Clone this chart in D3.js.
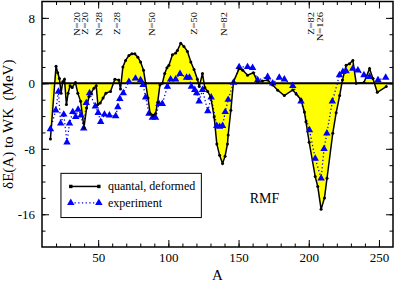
<!DOCTYPE html>
<html><head><meta charset="utf-8">
<script src="https://cdn.jsdelivr.net/npm/d3@7"></script>
<style>body{margin:0;background:#fff}svg{display:block}text{font-family:"Liberation Serif","Times New Roman",serif}</style>
</head><body><div id="chart"></div>
<script>
// quantal, deformed (A, dE)
const quantalA = [16,20,21.2,22.4,23.6,24.8,26,27.4,28.6,30,31.5,33.8,35.5,37.5,39.9,41.8,43.5,45,47,48.6,49.8,51.5,53.5,55.5,58.8,61.9,64.7,65.9,67.6,69.5,71.9,74,76.1,78.3,80.2,82.3,83.8,85.5,87,89.2,90.9,92.4,94,95.7,97.4,99,100.4,102.9,105.2,106.4,108.8,111.1,113.6,116,118.3,120.7,122,124.3,125.9,128,130.2,132.6,134.5,136.5,138.6,140.4,142.1,142.6,144.5,146.4,150.4,153,156.4,160.5,163.6,167,170.7,174.3,177.9,182.6,188.6,191,194.5,196.9,198,200.3,204.6,206.4,208.8,211.2,213,217.1,219.5,222,224,226.6,229,231.4,233.8,239.3,243.3,245.7,248.8,255.2];
const quantalE = [-6.8,2.1,1.3,0.6,-1.2,0.2,0.5,-2.6,-1.2,-0.3,-0.5,0.1,-1.2,-2.2,-5.4,-3.0,-1.6,-1.2,-0.6,-0.3,-2.6,-2.4,-1.8,-1.2,-1.0,0.5,0.4,-0.7,2.0,2.8,3.4,3.6,3.6,3.2,2.6,1.6,0.0,-1.8,-3.7,-3.9,-3.7,-2.3,-0.2,0.0,1.2,1.9,2.2,3.5,3.7,4.0,4.9,4.5,3.9,2.6,1.7,0.5,-0.4,1.2,-0.5,-1.0,-1.7,-4.1,-7.4,-8.8,-9.8,-8.9,-7.4,-6.3,-3.3,0.2,1.8,1.6,1.0,1.3,0.2,0.3,0.4,-0.2,-0.85,-1.5,-0.8,-1.3,-2.0,-3.5,-4.7,-7.2,-11.4,-12.6,-15.4,-14.0,-11.6,-6.1,-3.6,-1.5,0.4,2.2,2.4,2.8,0.0,0.1,1.8,0.6,-1.1,-0.4];
// experiment (A, dE)
const exptA = [16,19.8,21.7,23.3,25.5,27.8,29.6,31.9,34,35.7,37.8,39.7,41.5,43.9,48,50,51.8,54.5,58,62.5,64,65.4,67.9,71.9,76.6,80.2,82,83.8,86.2,88.6,90.9,93.3,95.7,99.3,101.6,105.2,108.3,113,115,116.4,118.8,120.2,121.9,124.3,128.1,130.5,134.5,136.5,138.6,140.5,142.6,146.4,150.4,156.4,160,163.6,170.7,174.3,179,182.6,188.6,194.5,200.5,204.6,208.8,210.9,212.9,216.8,221.9,224.3,226.6,231.4,235,239.3,243.3,249.3,254.8];
const exptE = [-5.6,-3.3,-1.0,-4.9,-3.8,-7.2,-4.9,-3.5,-4.1,-3.2,-3.9,-5.5,-2.4,-1.2,-2.8,-3.6,-4.7,-3.8,-3.9,-4.0,-2.9,-1.9,-1.2,0.2,0.6,0.4,-0.2,-1.7,-3.7,-4.2,-4.2,-2.5,-2.5,-0.4,0.5,0.5,1.15,0.7,0.7,-0.4,-0.8,-1.2,-2.2,-0.8,-3.4,-1.7,-5.2,-5.3,-5.2,-3.5,-2.0,0.1,2.0,2.0,1.9,0.4,0.8,0.0,0.7,0.5,-0.3,-2.2,-5.7,-9.2,-11.6,-8.0,-6.1,-2.2,1.0,1.4,1.5,1.8,1.6,1.0,0.8,0.4,0.7];
// shell closure labels (text, A position)
const magicText = ["N=20","Z=20","N=28","Z=28","N=50","Z=50","N=82","Z=82","N=126"];
const magicA = [37.3,42.5,52.9,65.9,90.2,120.7,141.6,204,210.2];
const xTicks = [50,100,150,200,250];
const yTicks = [8,0,-8,-16];
const legendLabels = ["quantal, deformed","experiment"];

const W = 395, H = 282;
const m = {l:42, r:2, t:1.5, b:35};
const svg = d3.select("#chart").append("svg").attr("width",W).attr("height",H);
const x = d3.scaleLinear().domain([10,260]).range([m.l, W-m.r]);
const y = d3.scaleLinear().domain([-20,10]).range([H-m.b, m.t]);

const quantal = quantalA.map((a,i)=>({a, e:quantalE[i]}));
const expt = exptA.map((a,i)=>({a, e:exptE[i]}));

const g = svg.append("g");
// yellow fill to zero
g.append("path").datum(quantal)
  .attr("d", d3.area().x(d=>x(d.a)).y0(y(0)).y1(d=>y(d.e)))
  .attr("fill","#ffff00").attr("stroke","none");
// zero line
g.append("line").attr("x1",x(10)).attr("x2",x(260)).attr("y1",y(0)).attr("y2",y(0))
  .attr("stroke","#000").attr("stroke-width",2);
// experiment dotted line
g.append("path").datum(expt)
  .attr("d", d3.line().x(d=>x(d.a)).y(d=>y(d.e)))
  .attr("fill","none").attr("stroke","#0000ff").attr("stroke-width",1.3)
  .attr("stroke-dasharray","1.3,2.4");
// quantal line
g.append("path").datum(quantal)
  .attr("d", d3.line().x(d=>x(d.a)).y(d=>y(d.e)))
  .attr("fill","none").attr("stroke","#000").attr("stroke-width",1.5);
const tri = d3.symbol().type(d3.symbolTriangle).size(24);
g.selectAll(".tri").data(expt).join("path").attr("class","tri")
  .attr("transform",d=>`translate(${x(d.a)},${y(d.e)})`).attr("d",tri).attr("fill","#0000ff");
g.selectAll(".dot").data(quantal).join("circle").attr("class","dot")
  .attr("cx",d=>x(d.a)).attr("cy",d=>y(d.e)).attr("r",1.5).attr("fill","#000");

// axes (ticks inward on all sides)
const fs = "13px";
function ax(axis, tr, major, minor){
  const gm = svg.append("g").attr("transform",tr);
  gm.call(axis.tickValues(minor).tickSize(3.5).tickFormat(""));
  gm.select(".domain").remove();
  const gM = svg.append("g").attr("transform",tr);
  gM.call(axis.tickValues(major).tickSize(7).tickFormat(""));
  gM.select(".domain").remove();
  return gM;
}
const xMinor = d3.range(20,260,10), yMinor = d3.range(-18,10,2);
const bottom = ax(d3.axisTop(x), `translate(0,${y(-20)})`, xTicks, xMinor);
bottom.selectAll(".tick").append("text").text(d=>d).attr("y",15).attr("text-anchor","middle")
  .attr("font-size",fs).attr("fill","#000");
ax(d3.axisBottom(x), `translate(0,${y(10)})`, xTicks, xMinor);
const left = ax(d3.axisRight(y), `translate(${x(10)},0)`, yTicks, yMinor);
left.selectAll(".tick").append("text").text(d=>d).attr("x",-7).attr("dy","0.35em").attr("text-anchor","end")
  .attr("font-size",fs).attr("fill","#000");
ax(d3.axisLeft(y), `translate(${x(260)},0)`, yTicks, yMinor);

// frame
svg.append("rect").attr("x",x(10)).attr("y",y(10)).attr("width",x(260)-x(10)).attr("height",y(-20)-y(10))
  .attr("fill","none").attr("stroke","#000").attr("stroke-width",1.5);

// axis titles
svg.append("text").attr("x",(x(10)+x(260))/2).attr("y",280).attr("text-anchor","middle")
  .attr("font-size","15px").text("A");
svg.append("text").attr("transform",`translate(13,${(y(10)+y(-20))/2}) rotate(-90)`)
  .attr("text-anchor","middle").attr("font-size","15px").attr("xml:space","preserve").text("δE(A) to WK  (MeV)");

// magic labels
svg.selectAll(".magic").data(magicText).join("text").attr("class","magic")
  .attr("transform",(d,i)=>`translate(${x(magicA[i])},12) rotate(-90) scale(1,0.82)`)
  .attr("text-anchor","end").attr("font-size","10.5px").attr("fill","#000").text(d=>d);

// RMF
svg.append("text").attr("x",x(158)).attr("y",y(-14.6)).attr("font-size","14px").text("RMF");

// legend
const lg = svg.append("g");
lg.append("rect").attr("x",x(23.5)).attr("y",y(-11.0)).attr("width",x(123.5)-x(23.5)).attr("height",y(-16.4)-y(-11.0))
  .attr("fill","#fff").attr("stroke","#000").attr("stroke-width",1);
const ly = [y(-12.6), y(-14.6)];
const lx1 = x(30.5), lx2 = x(50.5);
lg.append("line").attr("x1",lx1).attr("x2",lx2).attr("y1",ly[0]).attr("y2",ly[0]).attr("stroke","#000").attr("stroke-width",1.5);
[lx1,lx2].forEach(xx=>lg.append("rect").attr("x",xx-1.7).attr("y",ly[0]-1.7).attr("width",3.4).attr("height",3.4).attr("fill","#000"));
lg.append("line").attr("x1",lx1).attr("x2",lx2).attr("y1",ly[1]).attr("y2",ly[1]).attr("stroke","#0000ff").attr("stroke-width",1.3).attr("stroke-dasharray","1.3,2.4");
[lx1,lx2].forEach(xx=>lg.append("path").attr("transform",`translate(${xx},${ly[1]})`).attr("d",tri).attr("fill","#0000ff"));
legendLabels.forEach((t,i)=>lg.append("text").attr("x",x(57)).attr("y",ly[i]+4).attr("font-size","12px").text(t));
</script></body></html>
